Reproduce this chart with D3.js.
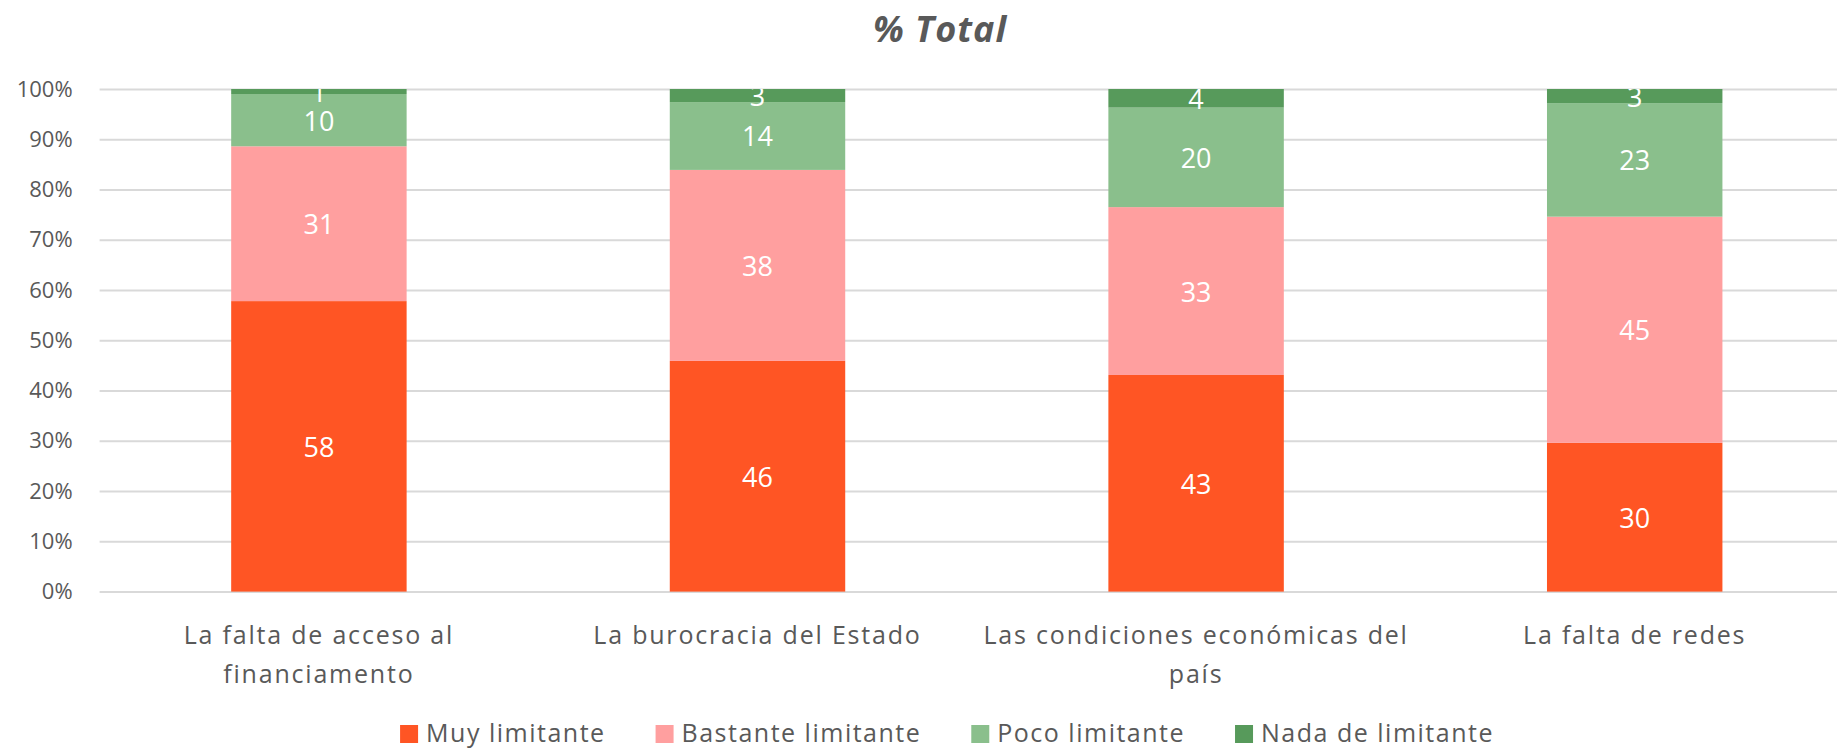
<!DOCTYPE html>
<html lang="es">
<head>
<meta charset="UTF-8">
<title>% Total</title>
<script src="https://d3js.org/d3.v7.min.js"></script>
<style>
  body { margin: 0; background: #fff; font-family: 'Open Sans', 'Noto Sans', sans-serif; overflow: hidden; }
  svg { display: block; }
  .grid line { stroke: #d9d9d9; stroke-width: 2; }
  .grid .domain { display: none; }
  .tick text { fill: #595959; }
</style>
</head>
<body>
<svg width="1837" height="749"></svg>
<script>
// categories (x axis) and their wrapped label lines
const categories = [
  "La falta de acceso al financiamento",
  "La burocracia del Estado",
  "Las condiciones económicas del país",
  "La falta de redes"
];
const labelLines = [
  ["La falta de acceso al", "financiamento"],
  ["La burocracia del Estado"],
  ["Las condiciones económicas del", "país"],
  ["La falta de redes"]
];

const seriesNames = ["Muy limitante", "Bastante limitante", "Poco limitante", "Nada de limitante"];
const seriesColors = ["#ff5524", "#ff9f9f", "#8abf8c", "#579a5b"];

// percentage share per category, one array per series
const muy      = [57.8, 45.9, 43.1, 29.6];
const bastante = [30.8, 38.0, 33.4, 45.0];
const poco     = [10.4, 13.5, 19.8, 22.6];
const nada     = [1.0,  2.6,  3.7,  2.8];

const yTicks = [0, 10, 20, 30, 40, 50, 60, 70, 80, 90, 100];

const svg = d3.select("svg");
const plot = {left: 99.6, right: 1854, top: 89, bottom: 591.6};

const rows = categories.map((c, i) => ({
  cat: c,
  "Muy limitante": muy[i],
  "Bastante limitante": bastante[i],
  "Poco limitante": poco[i],
  "Nada de limitante": nada[i]
}));

const stack = d3.stack().keys(seriesNames).offset(d3.stackOffsetExpand);
const series = stack(rows);

const x = d3.scaleBand()
  .domain(categories)
  .range([plot.left, plot.right])
  .paddingInner(0.6)
  .paddingOuter(0.3);

const y = d3.scaleLinear().domain([0, 1]).range([plot.bottom, plot.top]);

const color = d3.scaleOrdinal().domain(seriesNames).range(seriesColors);

// title
svg.append("text")
  .attr("x", 940)
  .attr("y", 42)
  .attr("text-anchor", "middle")
  .attr("font-size", 36)
  .attr("font-weight", 700)
  .attr("font-style", "italic")
  .attr("letter-spacing", 1)
  .attr("fill", "#595959")
  .text("% Total");

// gridlines + y labels
const yAxis = svg.append("g")
  .attr("class", "grid")
  .attr("transform", `translate(${plot.left},0)`)
  .call(d3.axisLeft(y)
    .tickValues(yTicks.map(t => t / 100))
    .tickSize(-(plot.right - plot.left))
    .tickPadding(27)
    .tickFormat(d => Math.round(d * 100) + "%"));
yAxis.selectAll("text").attr("font-size", 22).attr("font-family", "'Open Sans', sans-serif");

// bars
svg.append("clipPath").attr("id", "plotclip")
  .append("rect")
  .attr("x", plot.left).attr("y", plot.top)
  .attr("width", plot.right - plot.left).attr("height", plot.bottom - plot.top);

const layers = svg.append("g")
  .selectAll("g")
  .data(series)
  .join("g")
  .attr("fill", d => color(d.key));

layers.selectAll("rect")
  .data(d => d)
  .join("rect")
  .attr("x", d => x(d.data.cat))
  .attr("y", d => y(d[1]))
  .attr("width", x.bandwidth())
  .attr("height", d => y(d[0]) - y(d[1]));

// value labels (clipped at the top of the plot like the original)
const labels = svg.append("g").attr("clip-path", "url(#plotclip)");
series.forEach(s => {
  labels.selectAll(null)
    .data(s)
    .join("text")
    .attr("x", d => x(d.data.cat) + x.bandwidth() / 2)
    .attr("y", d => y((d[0] + d[1]) / 2))
    .attr("text-anchor", "middle")
    .attr("dominant-baseline", "central")
    .attr("font-size", 27)
    .attr("fill", "#fff")
    .text(d => Math.round(d.data[s.key]));
});

// x labels
const xl = svg.append("g");
categories.forEach((c, i) => {
  const t = xl.append("text")
    .attr("text-anchor", "middle")
    .attr("font-size", 25)
    .attr("letter-spacing", 1.8)
    .attr("fill", "#595959");
  labelLines[i].forEach((line, j) => {
    t.append("tspan")
      .attr("x", x(c) + x.bandwidth() / 2)
      .attr("y", 644 + j * 39)
      .text(line);
  });
});

// legend
const legend = svg.append("g");
let lx = 0;
seriesNames.forEach((name, i) => {
  const item = legend.append("g").attr("transform", `translate(${lx},0)`);
  item.append("rect")
    .attr("x", 0).attr("y", -17)
    .attr("width", 18).attr("height", 18)
    .attr("fill", seriesColors[i]);
  const txt = item.append("text")
    .attr("x", 26)
    .attr("y", 0)
    .attr("font-size", 25)
    .attr("letter-spacing", 1.5)
    .attr("fill", "#595959")
    .text(name);
  lx += 26 + txt.node().getComputedTextLength() + 50;
});
const legendW = lx - 50;
legend.attr("transform", `translate(${947 - legendW / 2},742)`);
</script>
</body>
</html>
